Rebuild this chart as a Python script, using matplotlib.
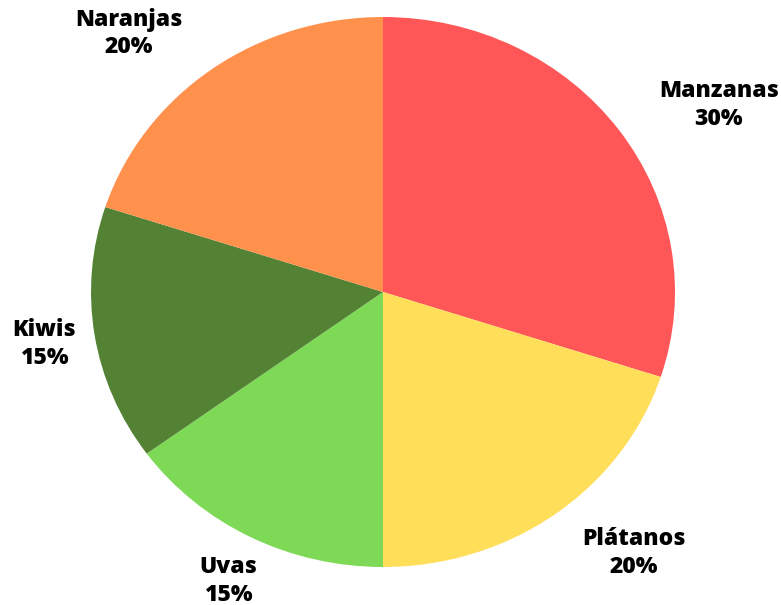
import matplotlib.pyplot as plt

# Data
frutas = ['Manzanas', 'Plátanos', 'Uvas', 'Kiwis', 'Naranjas']
porcentajes = [30, 20, 15, 15, 20]
colores = ['#FF5757', '#FFDE59', '#7ED957', '#548235', '#FF914D']

# label centres in data units of the (stretched) pie axes
pos_etiquetas = [(1.15, 0.68), (0.86, -0.95), (-0.53, -1.05), (-1.16, -0.19), (-0.87, 0.94)]

plt.rcParams['font.family'] = ['Open Sans', 'DejaVu Sans']

fig = plt.figure(figsize=(7.81, 6.05), dpi=100)
# pie is a bit wider than tall in the reference, so no equal aspect
ax = fig.add_axes([91 / 781, 38 / 605, 584 / 781, 550 / 605])

etiquetas = [f'{f}\n{p}%' for f, p in zip(frutas, porcentajes)]
wedges, texts = ax.pie(porcentajes, labels=etiquetas, colors=colores,
                       startangle=90, counterclock=False, radius=1,
                       wedgeprops=dict(linewidth=0),
                       textprops=dict(fontsize=16.5, fontweight='heavy', color='black'))

for t, pos in zip(texts, pos_etiquetas):
    t.set_position(pos)
    t.set_ha('center')
    t.set_va('center')
    t.set_linespacing(1.2)

ax.set_aspect('auto')
ax.set_xlim(-1, 1)
ax.set_ylim(-1, 1)

plt.savefig('out.png', dpi=100)
